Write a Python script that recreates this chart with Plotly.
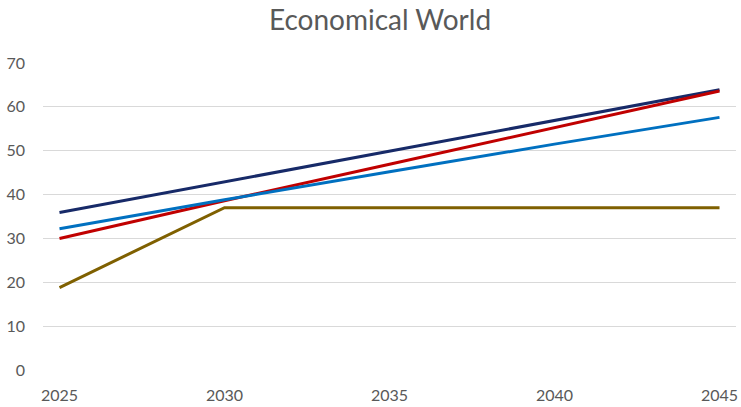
import plotly.graph_objects as go

# Scenario projections, read at 5-year intervals
years = [2025, 2030, 2035, 2040, 2045]
navy_series = [35.9, 42.9, 49.9, 56.9, 63.9]
red_series = [30.0, 38.6, 46.9, 55.3, 63.6]
blue_series = [32.2, 38.8, 45.2, 51.5, 57.6]
olive_series = [18.8, 37.0, 37.0, 37.0, 37.0]

x_ticks = [2025, 2030, 2035, 2040, 2045]
y_ticks = [0, 10, 20, 30, 40, 50, 60, 70]

series = [
    ("Series 1", navy_series, "#172A68"),
    ("Series 2", red_series, "#C00000"),
    ("Series 3", blue_series, "#0070C0"),
    ("Series 4", olive_series, "#7F6000"),
]

fig = go.Figure()
for name, vals, color in series:
    fig.add_trace(go.Scatter(
        x=years, y=vals, name=name, mode="lines",
        line=dict(color=color, width=3),
    ))

font_family = "Lato, 'Open Sans', sans-serif"
fig.update_layout(
    width=741, height=407,
    margin=dict(l=43, r=3, t=63, b=36),
    paper_bgcolor="white", plot_bgcolor="white",
    showlegend=False,
    title=dict(
        text="Economical World",
        x=380 / 741, xanchor="center", y=1 - 20 / 407, yanchor="middle",
        font=dict(family=font_family, size=28, color="#595959"),
    ),
    xaxis=dict(
        range=[2024.5, 2045.5], tickvals=x_ticks,
        ticktext=[str(v) for v in x_ticks],
        showgrid=False, zeroline=False, showline=False,
        ticks="", ticklabelstandoff=14,
        tickfont=dict(family=font_family, size=16, color="#595959"),
    ),
    yaxis=dict(
        range=[0, 70], tickvals=y_ticks,
        showgrid=True, gridcolor="#D9D9D9", gridwidth=1,
        zeroline=False, showline=False, ticks="", ticklabelstandoff=17,
        tickfont=dict(family=font_family, size=16, color="#595959"),
    ),
)

fig.write_html("out.html")
